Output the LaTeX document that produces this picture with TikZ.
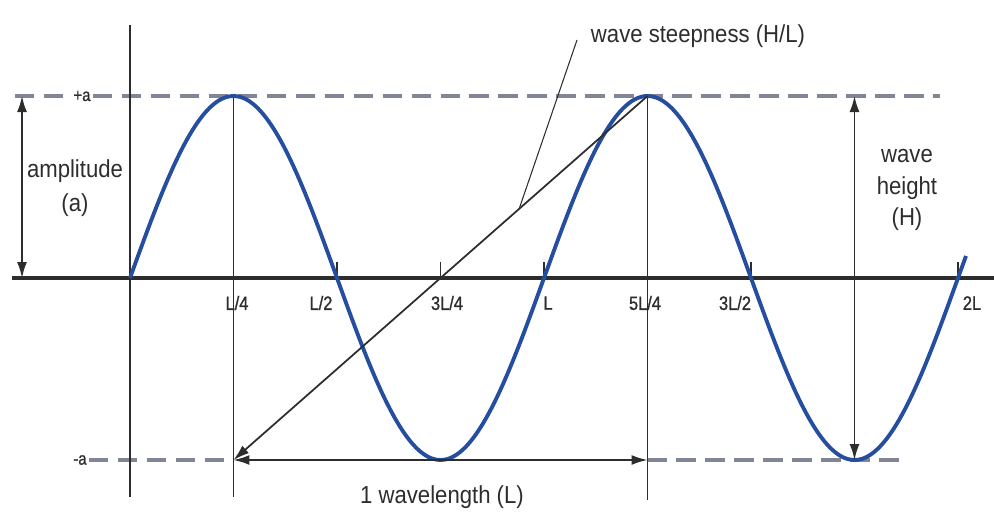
\documentclass[tikz,border=0pt]{standalone}
\usepackage{fontspec}
\setmainfont{Liberation Sans}[FakeStretch=0.9]
\newfontfamily\tickfont{Liberation Sans}[FakeStretch=0.85,FakeBold=1]
\usetikzlibrary{arrows.meta,calc}

\definecolor{waveblue}{RGB}{38,78,160}
\definecolor{levelgray}{RGB}{128,134,150}
\definecolor{inkgray}{RGB}{45,45,45}

\tikzset{
  label text/.style={text=inkgray, font=\fontsize{14}{19}\selectfont, inner sep=1pt},
  tick label/.style={text=inkgray, font=\tickfont\fontsize{11}{13}\selectfont, inner sep=1pt},
  level line/.style={levelgray, line width=2.1pt, dash pattern=on 11pt off 5.5pt},
  guide line/.style={inkgray, line width=1pt},
  dim arrow/.style={inkgray, line width=1pt, {Latex[length=3.2mm,width=2mm]}-{Latex[length=3.2mm,width=2mm]}},
}

\begin{document}
\begin{tikzpicture}[x=0.02cm, y=-0.02cm]
  \def\axisy{278}
  \def\amp{182}
  \def\wavelen{414}
  \def\startx{130}

  \useasboundingbox (0,0) rectangle (994,518);

  % Reference points
  \coordinate (start) at (\startx,\axisy);
  \coordinate (crestA) at (233.5,96);
  \coordinate (crestB) at (647.5,96);
  \coordinate (waveL) at (233.5,460);
  \coordinate (waveR) at (647.5,460);

  % +a and -a levels
  \node[label text, font=\tickfont\fontsize{10}{12}\selectfont] (plusa) at (82,96) {+a};
  \draw[level line] (15,96) -- (plusa.west);
  \draw[level line] (plusa.east) -- (940,96);
  \node[label text, font=\tickfont\fontsize{10}{12}\selectfont] (minusa) at (80,460) {-a};
  \draw[level line] (minusa.east) -- (waveL);
  \draw[level line] (waveR) -- (907,460);

  % Still water line
  \coordinate (axisL) at (12,\axisy);
  \coordinate (axisR) at (994,\axisy);
  \draw[inkgray, line width=1.8pt] (axisL) -- (axisR);

  % Vertical guides
  \coordinate (leftTop) at (\startx,25);
  \coordinate (leftBot) at (\startx,497);
  \coordinate (guideA) at (233.5,497);
  \coordinate (guideB) at (647.5,500);
  \draw[guide line] (leftTop) -- (leftBot);
  \draw[guide line] (crestA) -- (guideA);
  \draw[guide line] (crestB) -- (guideB);

  % Small ticks on the axis
  \foreach \k in {2,3,4,6,8}
    \draw[guide line] ({\startx+\k*\wavelen/4},262) -- ({\startx+\k*\wavelen/4},\axisy);

  % The wave
  \draw[waveblue, line width=2.2pt, smooth]
    plot[domain=130:966, samples=200] (\x, {\axisy-\amp*sin(360*((\x-\startx)/\wavelen))});

  % Tick labels
  \node[tick label] (quarter) at (237,303) {L/4};
  \node[tick label] (half) at (321,303) {L/2};
  \node[tick label] (threequarter) at (447,303) {3L/4};
  \node[tick label] (full) at (548,303) {L};
  \node[tick label] (fivequarter) at (645,303) {5L/4};
  \node[tick label] (threehalf) at (735,303) {3L/2};
  \node[tick label] (double) at (972,303) {2L};

  % Amplitude
  \coordinate (ampTop) at (22,96);
  \coordinate (ampBot) at (22,\axisy);
  \draw[dim arrow] (ampTop) -- (ampBot);
  \node[label text, align=center] (amplabel) at (75,188) {amplitude\\(a)};

  % Wave height
  \coordinate (heightTop) at (854.5,96);
  \coordinate (heightBot) at (854.5,460);
  \draw[dim arrow] (heightTop) -- (heightBot);
  \node[label text, align=center, font=\fontsize{14}{18}\selectfont] (heightlabel) at (907,190) {wave\\height\\(H)};

  % Wavelength
  \draw[dim arrow] (waveL) -- (waveR);
  \node[label text] (wavelabel) at (442,497) {1 wavelength (L)};

  % Steepness
  \draw[inkgray, line width=1pt, -{Latex[length=3.2mm,width=2mm]}] (crestB) -- (waveL);
  \coordinate (steepMid) at ($(waveL)!0.69!(crestB)$);
  \node[label text] (steeplabel) at (698,36) {wave steepness (H/L)};
  \coordinate (leaderTop) at (577,40);
  \draw[inkgray, line width=0.6pt] (leaderTop) -- (steepMid);
\end{tikzpicture}
\end{document}
